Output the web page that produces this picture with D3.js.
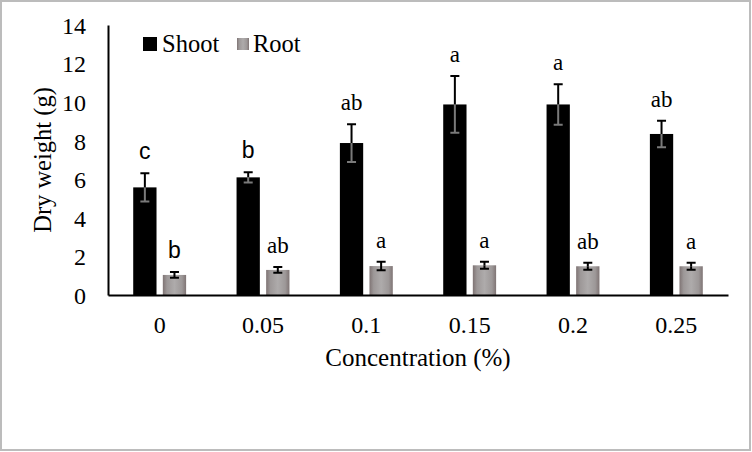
<!DOCTYPE html>
<html>
<head>
<meta charset="utf-8">
<script src="https://cdn.jsdelivr.net/npm/d3@7"></script>
</head>
<body style="margin:0; background:#fff">
<svg width="752" height="452"></svg>
<script>
// data
const concentrations = ["0", "0.05", "0.1", "0.15", "0.2", "0.25"];
const seriesNames = ["Shoot", "Root"];
const shootMean = [5.58, 6.10, 7.88, 9.88, 9.88, 8.35];
const shootErr = [0.73, 0.27, 0.98, 1.47, 1.05, 0.69];
const rootMean = [1.04, 1.30, 1.50, 1.54, 1.49, 1.49];
const rootErr = [0.15, 0.15, 0.22, 0.18, 0.18, 0.18];
const shootLetters = ["c", "b", "ab", "a", "a", "ab"];
const rootLetters = ["b", "ab", "a", "a", "ab", "a"];
const yTicks = [0, 2, 4, 6, 8, 10, 12, 14];

const SERIF = "Liberation Serif";
const SANS = "Liberation Sans";
// a few letters in the original are set in a sans face
const sansLetters = new Set(["Shoot-0", "Shoot-1", "Root-0"]);

const svg = d3.select("svg");

// outer grey frame
svg.append("rect")
    .attr("x", 1).attr("y", 1)
    .attr("width", 749).attr("height", 449)
    .attr("fill", "#fff")
    .attr("stroke", "#bcbcbc")
    .attr("stroke-width", 2);

const defs = svg.append("defs");
const grad = defs.append("linearGradient")
    .attr("id", "rootFill")
    .attr("x1", "0%").attr("x2", "100%")
    .attr("y1", "0%").attr("y2", "0%");
grad.append("stop").attr("offset", "0%").attr("stop-color", "#7f7474");
grad.append("stop").attr("offset", "18%").attr("stop-color", "#9d9898");
grad.append("stop").attr("offset", "50%").attr("stop-color", "#aeabab");
grad.append("stop").attr("offset", "82%").attr("stop-color", "#9d9898");
grad.append("stop").attr("offset", "100%").attr("stop-color", "#7f7474");

const plotLeft = 108, plotRight = 728, plotTop = 25, plotBottom = 295;

const x0 = d3.scaleBand()
    .domain(concentrations)
    .range([plotLeft, plotRight]);

const groupW = 52.9;
const x1 = d3.scaleBand()
    .domain(seriesNames)
    .range([(x0.bandwidth() - groupW) / 2, (x0.bandwidth() + groupW) / 2])
    .paddingInner(0.213);

const y = d3.scaleLinear()
    .domain([0, 14])
    .range([plotBottom, plotTop]);

const rows = concentrations.map((c, i) => [
    { key: "Shoot", c: c, i: i, v: shootMean[i], e: shootErr[i], l: shootLetters[i] },
    { key: "Root", c: c, i: i, v: rootMean[i], e: rootErr[i], l: rootLetters[i] }
]);

const groups = svg.append("g")
    .selectAll("g")
    .data(rows)
    .enter()
    .append("g")
    .attr("transform", d => "translate(" + x0(d[0].c) + ",0)");

const bars = groups.selectAll(".bar")
    .data(d => d)
    .enter()
    .append("g")
    .attr("class", "bar");

bars.append("rect")
    .attr("x", d => x1(d.key))
    .attr("y", d => y(d.v))
    .attr("width", x1.bandwidth())
    .attr("height", d => y(0) - y(d.v))
    .attr("fill", d => d.key === "Shoot" ? "#000" : "url(#rootFill)");

const cx = d => x1(d.key) + x1.bandwidth() / 2;
const capHalf = 4.5;

// upper half of error bar (black, above the bar)
bars.append("path")
    .attr("d", d => "M" + cx(d) + "," + y(d.v) + "V" + y(d.v + d.e)
        + "M" + (cx(d) - capHalf) + "," + y(d.v + d.e) + "H" + (cx(d) + capHalf))
    .attr("stroke", "#000")
    .attr("stroke-width", 2)
    .attr("fill", "none");

// lower half of error bar (drawn inside the bar)
bars.append("path")
    .attr("d", d => "M" + cx(d) + "," + y(d.v) + "V" + y(d.v - d.e)
        + "M" + (cx(d) - capHalf) + "," + y(d.v - d.e) + "H" + (cx(d) + capHalf))
    .attr("stroke", d => d.key === "Shoot" ? "#7a7a7a" : "#000")
    .attr("stroke-width", 2)
    .attr("fill", "none");

bars.append("text")
    .attr("x", cx)
    .attr("y", d => y(d.v + d.e) - 14)
    .attr("text-anchor", "middle")
    .attr("font-size", 23)
    .attr("font-family", d => sansLetters.has(d.key + "-" + d.i) ? SANS : SERIF)
    .text(d => d.l);

// axes
const yAxis = svg.append("g")
    .attr("transform", "translate(" + plotLeft + ",0)")
    .call(d3.axisLeft(y).tickValues(yTicks).tickSize(0).tickPadding(22))
    .attr("font-family", SERIF)
    .attr("font-size", 24);
yAxis.select(".domain").attr("stroke", "#000").attr("stroke-width", 2);
yAxis.selectAll("text").attr("fill", "#000").attr("dy", "0.35em");

const xAxis = svg.append("g")
    .attr("transform", "translate(0," + plotBottom + ")")
    .call(d3.axisBottom(x0).tickSize(0).tickPadding(21))
    .attr("font-family", SERIF)
    .attr("font-size", 24);
xAxis.select(".domain").attr("stroke", "#000").attr("stroke-width", 2);
xAxis.selectAll("text").attr("fill", "#000");

// axis titles
svg.append("text")
    .attr("x", (plotLeft + plotRight) / 2)
    .attr("y", 366)
    .attr("text-anchor", "middle")
    .attr("font-family", SERIF)
    .attr("font-size", 25)
    .text("Concentration (%)");

svg.append("text")
    .attr("transform", "translate(51," + ((plotTop + plotBottom) / 2) + ") rotate(-90)")
    .attr("text-anchor", "middle")
    .attr("font-family", SERIF)
    .attr("font-size", 24.5)
    .text("Dry weight (g)");

// legend
const legend = svg.append("g")
    .selectAll("g")
    .data(seriesNames)
    .enter()
    .append("g")
    .attr("transform", (d, i) => "translate(" + [143, 237][i] + ",37)");

legend.append("rect")
    .attr("width", d => d === "Shoot" ? 14 : 12)
    .attr("height", d => d === "Shoot" ? 14 : 12)
    .attr("y", d => d === "Shoot" ? 0 : 1)
    .attr("fill", d => d === "Shoot" ? "#000" : "url(#rootFill)");

legend.append("text")
    .attr("x", d => d === "Shoot" ? 19 : 16)
    .attr("y", 15)
    .attr("font-family", SERIF)
    .attr("font-size", 24.5)
    .text(d => d);
</script>
</body>
</html>
